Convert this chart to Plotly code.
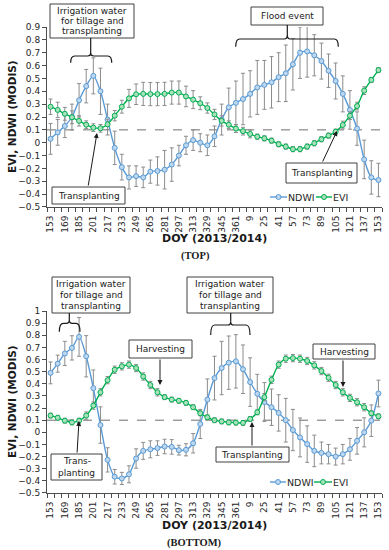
import plotly.graph_objects as go

# ---------------- data ----------------
doy = [153, 161, 169, 177, 185, 193, 201, 209, 217, 225, 233, 241, 249, 257, 265, 273, 281, 289,
       297, 305, 313, 321, 329, 337, 345, 353, 361,
       1, 9, 17, 25, 33, 41, 49, 57, 65, 73, 81, 89, 97, 105, 113, 121, 129, 137, 145, 153]
tick_labels = ["153", "169", "185", "201", "217", "233", "249", "265", "281", "297", "313", "329",
               "345", "361", "9", "25", "41", "57", "73", "89", "105", "121", "137", "153"]

ndwi_top = [0.03, 0.08, 0.13, 0.20, 0.33, 0.44, 0.52, 0.40, 0.18, -0.04, -0.19, -0.27, -0.26, -0.27,
            -0.225, -0.22, -0.21, -0.17, -0.10, -0.02, 0.02, 0.00, -0.02, 0.05, 0.18, 0.275, 0.31,
            0.34, 0.38, 0.43, 0.45, 0.47, 0.51, 0.54, 0.61, 0.70, 0.71, 0.68, 0.635, 0.56, 0.48,
            0.38, 0.255, 0.11, -0.13, -0.27, -0.29]
ndwi_top_err = [0.12, 0.10, 0.09, 0.10, 0.13, 0.13, 0.14, 0.18, 0.12, 0.13, 0.10, 0.09, 0.08, 0.08,
                0.09, 0.11, 0.15, 0.13, 0.08, 0.07, 0.08, 0.07, 0.08, 0.08, 0.12, 0.15, 0.17, 0.20,
                0.18, 0.21, 0.19, 0.20, 0.19, 0.22, 0.20, 0.20, 0.20, 0.16, 0.14, 0.13, 0.14, 0.14,
                0.15, 0.13, 0.15, 0.13, 0.13]
evi_top = [0.28, 0.255, 0.225, 0.198, 0.17, 0.14, 0.117, 0.112, 0.143, 0.21, 0.28, 0.345, 0.377,
           0.38, 0.378, 0.378, 0.38, 0.39, 0.39, 0.36, 0.335, 0.307, 0.27, 0.22, 0.17, 0.14, 0.11,
           0.09, 0.068, 0.047, 0.034, 0.016, -0.012, -0.03, -0.05, -0.05, -0.03, -0.004, 0.027,
           0.055, 0.086, 0.138, 0.21, 0.285, 0.405, 0.488, 0.565]
evi_top_err = [0.06, 0.06, 0.05, 0.05, 0.04, 0.03, 0.03, 0.03, 0.04, 0.04, 0.05, 0.07, 0.08, 0.09,
               0.09, 0.09, 0.09, 0.09, 0.09, 0.08, 0.07, 0.05, 0.04, 0.04, 0.04, 0.03, 0.03, 0.03,
               0.03, 0.02, 0.02, 0.02, 0.02, 0.02, 0.02, 0.02, 0.02, 0.02, 0.02, 0.02, 0.02, 0.03,
               0.03, 0.03, 0.03, 0.02, 0.02]

ndwi_bot = [0.49, 0.566, 0.65, 0.696, 0.787, 0.627, 0.364, 0.06, -0.227, -0.366, -0.38, -0.346,
            -0.216, -0.153, -0.14, -0.13, -0.117, -0.12, -0.147, -0.144, -0.09, 0.069, 0.27, 0.447,
            0.53, 0.574, 0.585, 0.52, 0.414, 0.318, 0.25, 0.207, 0.16, 0.10, 0.019, -0.042, -0.097,
            -0.153, -0.17, -0.18, -0.20, -0.18, -0.14, -0.07, 0.0, 0.096, 0.32]
ndwi_bot_err = [0.09, 0.07, 0.10, 0.10, 0.16, 0.17, 0.15, 0.15, 0.10, 0.06, 0.05, 0.07, 0.08, 0.07,
                0.07, 0.06, 0.06, 0.06, 0.04, 0.05, 0.08, 0.12, 0.17, 0.18, 0.22, 0.22, 0.22, 0.20,
                0.20, 0.16, 0.16, 0.15, 0.15, 0.18, 0.17, 0.16, 0.15, 0.13, 0.09, 0.08, 0.07, 0.08,
                0.09, 0.11, 0.12, 0.13, 0.11]
evi_bot = [0.138, 0.12, 0.096, 0.082, 0.096, 0.138, 0.22, 0.33, 0.43, 0.516, 0.544, 0.558, 0.53,
           0.46, 0.39, 0.33, 0.29, 0.27, 0.26, 0.243, 0.207, 0.157, 0.124, 0.10, 0.09, 0.082, 0.08,
           0.078, 0.11, 0.165, 0.29, 0.433, 0.558, 0.607, 0.612, 0.607, 0.588, 0.552, 0.505, 0.45,
           0.39, 0.33, 0.284, 0.248, 0.207, 0.157, 0.132]
evi_bot_err = [0.02, 0.02, 0.02, 0.02, 0.02, 0.03, 0.03, 0.03, 0.03, 0.03, 0.03, 0.03, 0.03, 0.03,
               0.03, 0.03, 0.02, 0.02, 0.02, 0.02, 0.02, 0.02, 0.02, 0.02, 0.02, 0.02, 0.02, 0.02,
               0.02, 0.02, 0.03, 0.03, 0.03, 0.03, 0.03, 0.03, 0.03, 0.03, 0.03, 0.03, 0.03, 0.03,
               0.03, 0.03, 0.03, 0.02, 0.02]

series_names = ["NDWI", "EVI"]

idx = list(range(len(doy)))
tick_pos = idx[::2]

# ---------------- layout geometry (pixels) ----------------
W, H = 389, 550
L, R, T, B = 47, 382, 27, 493


def px(x):
    return (x - L) / (R - L)


def py(y):
    return (B - y) / (B - T)


BLUE = "#5B9BD5"
GREEN = "#00B050"
BLUE_FILL = "#BDD7EE"
GREEN_FILL = "#A9E0BE"
FONT = "DejaVu Sans"

fig = go.Figure()


def add_series(x, y, err, name, color, fill, xa, ya):
    fig.add_trace(go.Scatter(
        x=x, y=y, name=name, mode="lines+markers", xaxis=xa, yaxis=ya, showlegend=False,
        line=dict(color=color, width=1.4, shape="spline", smoothing=0.8),
        marker=dict(symbol="circle", size=5, color=fill, line=dict(color=color, width=1)),
        error_y=dict(type="data", array=err, color="#8c8c8c", thickness=1, width=2),
    ))


add_series(idx, ndwi_top, ndwi_top_err, series_names[0], BLUE, BLUE_FILL, "x", "y")
add_series(idx, evi_top, evi_top_err, series_names[1], GREEN, GREEN_FILL, "x", "y")
add_series(idx, ndwi_bot, ndwi_bot_err, series_names[0], BLUE, BLUE_FILL, "x2", "y2")
add_series(idx, evi_bot, evi_bot_err, series_names[1], GREEN, GREEN_FILL, "x2", "y2")

shapes = []
annotations = []

# dashed reference lines at 0.1
for xr, yr in (("x", "y"), ("x2", "y2")):
    shapes.append(dict(type="line", xref=xr, yref=yr, x0=-0.5, x1=46.5, y0=0.1, y1=0.1,
                       line=dict(color="#6f6f6f", width=1, dash="dash"), layer="below"))


def textbox(x0, y0, x1, y1, lines, size=9):
    shapes.append(dict(type="rect", xref="paper", yref="paper", x0=px(x0), x1=px(x1),
                       y0=py(y1), y1=py(y0), line=dict(color="#404040", width=1),
                       fillcolor="white", layer="above"))
    n = len(lines)
    pad = 1.5
    lh = (y1 - y0 - 2 * pad) / n
    for k, t in enumerate(lines):
        yc = y0 + pad + lh * (k + 0.5)
        annotations.append(dict(text=t, x=px((x0 + x1) / 2), y=py(yc), xref="paper", yref="paper",
                                showarrow=False, xanchor="center", yanchor="middle",
                                font=dict(family=FONT, size=size, color="#1a1a1a")))


def arrow(tx, ty, hx, hy):
    annotations.append(dict(text="", x=px(hx), y=py(hy), xref="paper", yref="paper",
                            ax=tx - hx, ay=ty - hy, showarrow=True, arrowhead=2, arrowsize=1,
                            arrowwidth=1, arrowcolor="#1a1a1a"))


def brace(x0, x1, xc, ytop, yend, ynotch, ybox):
    pts = [(x0, yend), (x0, ytop), (x0 + 4, ytop), (xc - 3, ytop), (xc, ytop), (xc, ynotch),
           (xc, ytop), (xc + 3, ytop), (x1 - 4, ytop), (x1, ytop), (x1, yend)]
    P = [(px(a), py(b)) for a, b in pts]
    path = ("M{0[0]},{0[1]} Q{1[0]},{1[1]} {2[0]},{2[1]} L{3[0]},{3[1]} Q{4[0]},{4[1]} {5[0]},{5[1]} "
            "Q{6[0]},{6[1]} {7[0]},{7[1]} L{8[0]},{8[1]} Q{9[0]},{9[1]} {10[0]},{10[1]}").format(*P)
    shapes.append(dict(type="path", xref="paper", yref="paper", path=path,
                       line=dict(color="#1a1a1a", width=1.2), layer="above"))
    shapes.append(dict(type="line", xref="paper", yref="paper", x0=px(xc), x1=px(xc),
                       y0=py(ynotch), y1=py(ybox), line=dict(color="#1a1a1a", width=1.2),
                       layer="above"))


def legend_item(x0, x1, xt, yc, color, fill, label):
    shapes.append(dict(type="line", xref="paper", yref="paper", x0=px(x0), x1=px(x1),
                       y0=py(yc), y1=py(yc), line=dict(color=color, width=1.4), layer="above"))
    xm = (x0 + x1) / 2
    shapes.append(dict(type="circle", xref="paper", yref="paper", x0=px(xm - 2.5), x1=px(xm + 2.5),
                       y0=py(yc + 2.5), y1=py(yc - 2.5), line=dict(color=color, width=1),
                       fillcolor=fill, layer="above"))
    annotations.append(dict(text=label, x=px(xt), y=py(yc), xref="paper", yref="paper",
                            showarrow=False, xanchor="left", yanchor="middle",
                            font=dict(family=FONT, size=9.5, color="#262626")))


irr = ["Irrigation water", "for tillage and", "transplanting"]

# ---- top panel annotations ----
textbox(50, 4, 134, 38, irr)
brace(70.7, 111.7, 90.7, 56, 62.7, 53, 38)
textbox(251, 7, 323, 25, ["Flood event"])
brace(235.7, 338.3, 287.3, 39, 46.7, 35, 25)
textbox(52, 187, 125, 204, ["Transplanting"])
arrow(88, 187, 97, 133)
textbox(286, 163, 357, 183, ["Transplanting"])
arrow(322, 163, 337, 131)
legend_item(270, 287, 286, 197, BLUE, BLUE_FILL, series_names[0])
legend_item(316, 332, 331, 197, GREEN, GREEN_FILL, series_names[1])

# ---- bottom panel annotations ----
textbox(52, 277, 130, 313, irr)
brace(59.3, 80, 69.3, 323.3, 331.7, 320, 313)
textbox(187, 277, 273, 313, irr)
brace(210.7, 250, 230.7, 325, 335, 321.7, 313)
textbox(129, 340, 192, 358, ["Harvesting"])
arrow(160, 358, 160, 385)
textbox(313, 344, 375, 359, ["Harvesting"])
arrow(343, 359, 343, 387)
textbox(51, 454, 102, 480, ["Trans-", "planting"])
arrow(77, 454, 79, 421)
textbox(216, 447, 289, 462, ["Transplanting"])
arrow(252, 447, 252, 422)
legend_item(270, 286, 285, 482, BLUE, BLUE_FILL, series_names[0])
legend_item(314, 332, 331, 482, GREEN, GREEN_FILL, series_names[1])

# ---- axis titles and panel captions ----
for yc in ((27 + 207) / 2, (311 + 493) / 2):
    annotations.append(dict(text="<b>EVI, NDWI (MODIS)</b>", x=px(12), y=py(yc), xref="paper",
                            yref="paper", showarrow=False, textangle=-90, xanchor="center",
                            yanchor="middle", font=dict(family=FONT, size=10.5, color="#1a1a1a")))
for yc in (238, 525.5):
    annotations.append(dict(text="<b>DOY (2013/2014)</b>", x=px(214), y=py(yc), xref="paper",
                            yref="paper", showarrow=False, xanchor="center", yanchor="middle",
                            font=dict(family=FONT, size=11, color="#1a1a1a")))
annotations.append(dict(text="<b>(TOP)</b>", x=px(195), y=py(256), xref="paper", yref="paper",
                        showarrow=False, xanchor="center", yanchor="middle",
                        font=dict(family="Liberation Serif", size=10.5, color="#1a1a1a")))
annotations.append(dict(text="<b>(BOTTOM)</b>", x=px(194.5), y=py(542.5), xref="paper",
                        yref="paper", showarrow=False, xanchor="center", yanchor="middle",
                        font=dict(family="Liberation Serif", size=10.5, color="#1a1a1a")))

AXC = "#4d4d4d"


def xaxis_cfg(anchor):
    return dict(domain=[0, 1], anchor=anchor, range=[-0.5, 46.5], tickmode="array",
                tickvals=tick_pos, ticktext=tick_labels, tickangle=-90, ticks="outside",
                ticklen=4, tickcolor="rgba(0,0,0,0)", showline=True, linecolor=AXC, linewidth=1,
                showgrid=False, zeroline=False,
                minor=dict(tickmode="linear", tick0=-0.5, dtick=1, ticks="outside", ticklen=4,
                           tickcolor=AXC, showgrid=False),
                tickfont=dict(family=FONT, size=9, color="#262626"))


def yaxis_cfg(anchor, dom, rng):
    return dict(domain=dom, anchor=anchor, range=rng, tick0=0, dtick=0.1, ticks="outside",
                ticklen=4, tickcolor=AXC, showline=True, linecolor=AXC, linewidth=1,
                showgrid=False, zeroline=False,
                tickfont=dict(family=FONT, size=9, color="#262626"))


fig.update_layout(
    width=W, height=H,
    margin=dict(l=L, r=W - R, t=T, b=H - B, autoexpand=False),
    paper_bgcolor="white", plot_bgcolor="white",
    font=dict(family=FONT, size=9, color="#262626"),
    xaxis=xaxis_cfg("y"),
    yaxis=yaxis_cfg("x", [py(207), py(27)], [-0.5001, 0.9001]),
    xaxis2=xaxis_cfg("y2"),
    yaxis2=yaxis_cfg("x2", [py(493), py(311)], [-0.5001, 1.0001]),
    shapes=shapes,
    annotations=annotations,
    showlegend=False,
)

fig.write_html("out.html", config={"displayModeBar": False},
               post_script="document.body.style.margin='0px';")
